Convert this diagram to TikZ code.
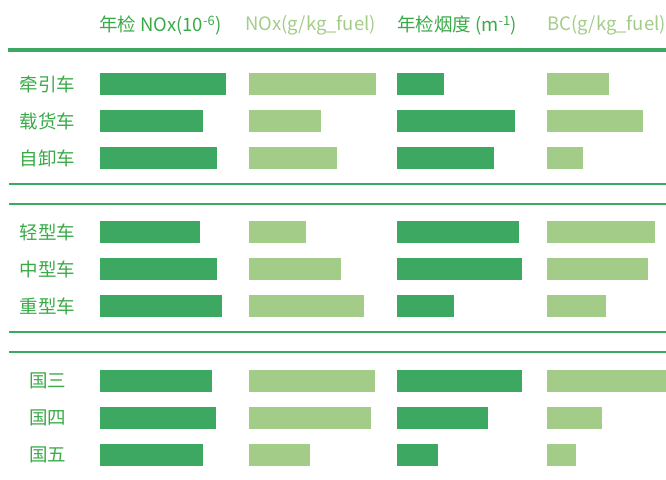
\documentclass[tikz,border=0pt]{standalone}
\usepackage{fontspec}
\setmainfont{Noto Sans CJK SC}
\begin{document}
\begin{tikzpicture}[x=1pt,y=-1pt]
    %colores
    \definecolor{gbar}{HTML}{3DA862}
    \definecolor{lbar}{HTML}{A3CC88}
    \definecolor{gtext}{HTML}{3AAA48}
    \colorlet{gline}{gbar}
    \tikzset{
        lbl/.style={text=gtext, font=\fontsize{18.5}{18.5}\selectfont, inner sep=0pt},
        head/.style={anchor=west, font=\fontsize{18.5}{18.5}\selectfont, inner sep=0pt}
    }
    \useasboundingbox (0,0) rectangle (666,479);

    % Encabezados
    \node[head,text=gtext] (hnox) at (99,25.5) {年检 NOx(10\textsuperscript{-6})};
    \node[head,text=lbar] (hnoxf) at (245,25.5) {NOx(g/kg\_fuel)};
    \node[head,text=gtext] (hhumo) at (397,25.5) {年检烟度 (m\textsuperscript{-1})};
    \node[head,text=lbar] (hbc) at (547,25.5) {BC(g/kg\_fuel)};

    % Lineas horizontales
    \draw[gline,line width=4.5pt] (8,50) -- (666,50);
    \foreach \y in {184,204,332,352}
        \draw[gline,line width=2pt] (9,\y) -- (666,\y);

    % Etiquetas y barras
    \foreach \i/\y/\ltext/\a/\b/\c/\d in {1/73/牵引车/226/376/444/609,
            2/110/载货车/203/321/515/643, 3/147/自卸车/217/337/494/583,
            4/221/轻型车/200/306/519/655, 5/258/中型车/217/341/522/648,
            6/295/重型车/222/364/454/606, 7/370/国三/212/375/522/666,
            8/407/国四/216/371/488/602, 9/444/国五/203/310/438/576}{
        \node[lbl] (fila\i) at (47.5,\y+11) {\ltext};
        \fill[gbar] (100,\y) rectangle (\a,\y+22);
        \fill[lbar] (249,\y) rectangle (\b,\y+22);
        \fill[gbar] (397,\y) rectangle (\c,\y+22);
        \fill[lbar] (547,\y) rectangle (\d,\y+22);
    }
\end{tikzpicture}
\end{document}
